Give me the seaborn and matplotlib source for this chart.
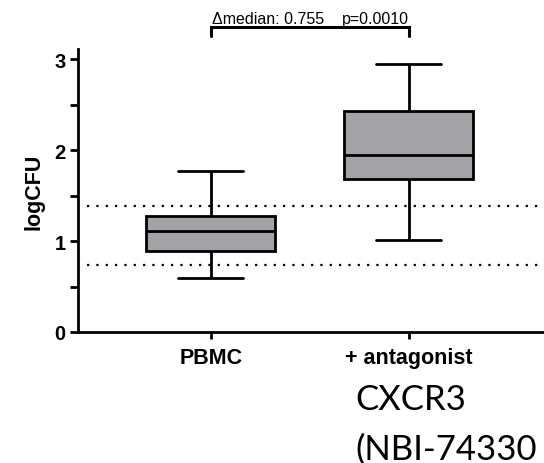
import matplotlib
matplotlib.use("Agg")
import matplotlib.pyplot as plt
import seaborn as sns
import pandas as pd
import numpy as np

# ---- data (five-number summaries) ----
categories = ["PBMC", "+ antagonist"]
pbmc_summary = [0.593, 0.893, 1.113, 1.275, 1.77]
antagonist_summary = [1.014, 1.68, 1.945, 2.425, 2.94]
reference_lines = [1.388, 0.736]
y_ticks = [0, 1, 2, 3]
y_minor_ticks = [0.5, 1.5, 2.5]
annotation_left = "\u0394median: 0.755"
annotation_right = "p=0.0010"
footer_lines = ["CXCR3", "(NBI-74330"]

df = pd.DataFrame({
    "group": [categories[0]] * len(pbmc_summary) + [categories[1]] * len(antagonist_summary),
    "logCFU": pbmc_summary + antagonist_summary,
})

sns.set_style("ticks", {"axes.edgecolor": "black", "xtick.color": "black",
                        "ytick.color": "black", "text.color": "black",
                        "axes.labelcolor": "black"})
plt.rcParams["font.family"] = ["Liberation Sans", "DejaVu Sans"]

fig = plt.figure(figsize=(5.44, 4.64), dpi=100)
ax = fig.add_axes([78 / 544, 131 / 464, 1 - 78 / 544, 283 / 464])

lw = 2.0
sns.boxplot(data=df, x="group", y="logCFU", order=categories, ax=ax,
            whis=(0, 100), width=0.652, color="#A3A2A7", linecolor="black",
            linewidth=lw, saturation=1,
            medianprops=dict(color="black", linewidth=lw),
            boxprops=dict(edgecolor="black", linewidth=lw),
            whiskerprops=dict(color="black", linewidth=lw),
            capprops=dict(color="black", linewidth=lw))

ax.set_xlim(-0.671, 1.685)
ax.set_ylim(0, 3.11)

for yv in reference_lines:
    ax.hlines(yv, -0.627, 1.685, colors="black", linewidth=1.6,
              linestyles=(0, (1, 3.2)), zorder=0.5)

ax.set_yticks(y_ticks)
ax.set_yticks(y_minor_ticks, minor=True)
ax.tick_params(axis="y", which="major", length=6, width=lw, labelsize=14.5, pad=3,
               colors="black")
ax.tick_params(axis="y", which="minor", length=6, width=lw, colors="black")
ax.tick_params(axis="x", which="major", length=5, width=lw, labelsize=15.5, pad=6,
               colors="black")
for lab in ax.get_yticklabels() + ax.get_xticklabels():
    lab.set_fontweight("bold")

ax.set_xlabel("")
ax.set_ylabel("logCFU", fontsize=15.5, fontweight="bold", labelpad=7, color="black")

for side in ["top", "right"]:
    ax.spines[side].set_visible(False)
for side in ["left", "bottom"]:
    ax.spines[side].set_linewidth(lw)
    ax.spines[side].set_color("black")
ax.spines["bottom"].set_bounds(-0.671, 1.685)

# significance bracket
ax.plot([0, 0, 1, 1], [3.25, 3.35, 3.35, 3.25], color="black", linewidth=2.2,
        clip_on=False, solid_joinstyle="miter")
ax.text(0.005, 3.40, annotation_left, fontsize=11.5, ha="left", va="baseline",
        color="black")
ax.text(1.0, 3.40, annotation_right, fontsize=11.5, ha="right", va="baseline",
        color="black")

# footer text
fig.text(355 / 544, 1 - 410 / 464, footer_lines[0], fontsize=25,
         family=["Lato", "DejaVu Sans"], ha="left", va="baseline", color="black")
fig.text(355 / 544, 1 - 460 / 464, footer_lines[1], fontsize=25,
         family=["Lato", "DejaVu Sans"], ha="left", va="baseline", color="black")

fig.savefig("out.png", dpi=100)
